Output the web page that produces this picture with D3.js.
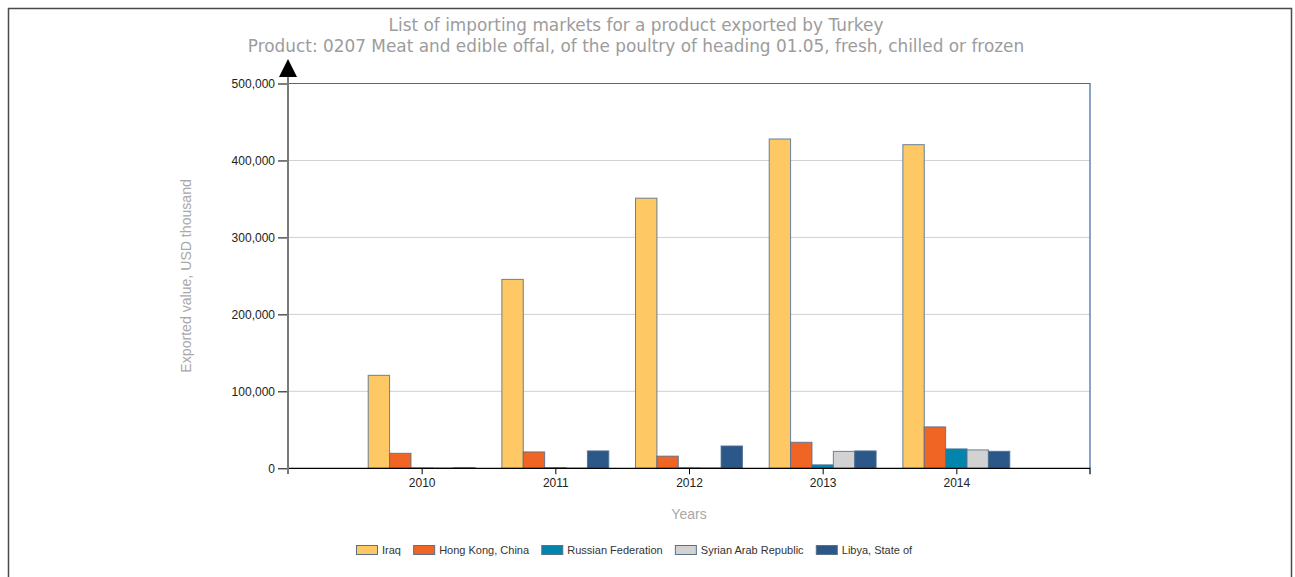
<!DOCTYPE html>
<html>
<head>
<meta charset="utf-8">
<script src="https://cdn.jsdelivr.net/npm/d3@7"></script>
<style>
  html, body { margin: 0; padding: 0; background: #fff; }
  svg { display: block; }
</style>
</head>
<body>
<svg id="chart" width="1295" height="577"></svg>
<script>
// ---- Data ----
const years = [2010, 2011, 2012, 2013, 2014];
const seriesNames = ["Iraq", "Hong Kong, China", "Russian Federation", "Syrian Arab Republic", "Libya, State of"];
const iraq      = [120800, 245500, 351000, 427900, 420500];
const hongKong  = [19500, 21300, 15800, 33800, 53800];
const russia    = [600, 900, 700, 4500, 25200];
const syria     = [400, 300, 500, 22000, 23900];
const libya     = [900, 22600, 29000, 22600, 22100];
const yTicks    = [0, 100000, 200000, 300000, 400000, 500000];
const titleLine1 = "List of importing markets for a product exported by Turkey";
const titleLine2 = "Product: 0207 Meat and edible offal, of the poultry of heading 01.05, fresh, chilled or frozen";
const yTitle = "Exported value, USD thousand";
const xTitle = "Years";

const seriesValues = [iraq, hongKong, russia, syria, libya];
const colors = ["#FEC864", "#F06424", "#0285AC", "#D2D2D2", "#2C5889"];

// ---- Layout ----
const svg = d3.select("#chart");
const L = 288, R = 1090, T = 83.5, B = 468.3;

// outer frame
svg.append("rect").attr("x", 8.5).attr("y", 8.5).attr("width", 1283).attr("height", 620)
  .attr("fill", "none").attr("stroke", "#4a4a4a").attr("stroke-width", 1.5);

const x = d3.scaleLinear().domain([2009, 2015]).range([L, R]);
const step = x(2010) - x(2009);
const groupW = step * 0.8;
const xSub = d3.scaleBand().domain(seriesNames).range([-groupW / 2, groupW / 2]).padding(0);
const y = d3.scaleLinear().domain([0, 500000]).range([B, T]);

// titles
const titleFont = "'DejaVu Sans', Verdana, sans-serif";
svg.append("text").attr("x", 636).attr("y", 31).attr("text-anchor", "middle")
  .attr("font-family", titleFont).attr("font-size", 16.9).attr("fill", "#9c9c9c").text(titleLine1);
svg.append("text").attr("x", 636).attr("y", 51.5).attr("text-anchor", "middle")
  .attr("font-family", titleFont).attr("font-size", 16.9).attr("fill", "#9c9c9c").text(titleLine2);

// gridlines
svg.append("g").selectAll("line").data(yTicks.filter(d => d > 0 && d < 500000)).join("line")
  .attr("x1", L).attr("x2", R).attr("y1", d => y(d)).attr("y2", d => y(d))
  .attr("stroke", "#d0d0d0").attr("stroke-width", 1);

// plot border top/right
svg.append("path").attr("d", `M${L},${T}H${R}V${B}`).attr("fill", "none")
  .attr("stroke", "#3C6A9C").attr("stroke-width", 1.2);

// bars
const groups = svg.append("g").selectAll("g").data(years).join("g")
  .attr("transform", d => `translate(${x(d)},0)`);
groups.selectAll("rect").data((yr, i) => seriesNames.map((s, k) => ({ s, k, v: seriesValues[k][i] })))
  .join("rect")
  .attr("x", d => xSub(d.s))
  .attr("width", xSub.bandwidth())
  .attr("y", d => y(d.v))
  .attr("height", d => y(0) - y(d.v))
  .attr("fill", d => colors[d.k])
  .attr("stroke", "#4f6f94").attr("stroke-opacity", 0.85).attr("stroke-width", 1);

// y axis
const yAxis = d3.axisLeft(y).tickValues(yTicks).tickFormat(d3.format(",")).tickSize(10).tickPadding(3);
const gy = svg.append("g").attr("transform", `translate(${L},0)`).call(yAxis);
gy.select(".domain").remove();
gy.selectAll(".tick line").attr("stroke", "#000");
gy.selectAll(".tick text").attr("font-family", "'Liberation Sans', Arial, sans-serif")
  .attr("font-size", 12).attr("fill", "#222");

// x axis
const xAxis = d3.axisBottom(x).tickValues(years).tickFormat(d3.format("d")).tickSize(6).tickPadding(4);
const gx = svg.append("g").attr("transform", `translate(0,${B})`).call(xAxis);
gx.select(".domain").attr("d", `M${L},0H${R}V6`).attr("stroke", "#000").attr("stroke-width", 1.2);
gx.selectAll(".tick line").attr("stroke", "#000");
gx.selectAll(".tick text").attr("font-family", "'Liberation Sans', Arial, sans-serif")
  .attr("font-size", 12).attr("fill", "#222");

// y axis line + arrow
svg.append("line").attr("x1", L).attr("x2", L).attr("y1", 72).attr("y2", 474)
  .attr("stroke", "#7a7a7a").attr("stroke-width", 2);
svg.append("path").attr("d", `M${L},59L${L + 9},77L${L - 9},77Z`).attr("fill", "#000");

// axis titles
svg.append("text").attr("transform", `translate(191,${(T + B) / 2}) rotate(-90)`)
  .attr("text-anchor", "middle").attr("font-family", "'Liberation Sans', Arial, sans-serif")
  .attr("font-size", 14.1).attr("fill", "#a8a8a8").text(yTitle);
svg.append("text").attr("x", (L + R) / 2).attr("y", 519).attr("text-anchor", "middle")
  .attr("font-family", "'Liberation Sans', Arial, sans-serif")
  .attr("font-size", 14).attr("fill", "#a8a8a8").text(xTitle);

// legend
const legend = svg.append("g").attr("transform", "translate(356,0)");
let lx = 0;
seriesNames.forEach((name, k) => {
  const g = legend.append("g").attr("transform", `translate(${lx},0)`);
  g.append("rect").attr("x", 0.5).attr("y", 545.5).attr("width", 21).attr("height", 9)
    .attr("fill", colors[k]).attr("stroke", "#5a6f88").attr("stroke-width", 1);
  const t = g.append("text").attr("x", 26).attr("y", 554).attr("font-family", "'Liberation Sans', Arial, sans-serif")
    .attr("font-size", 11).attr("fill", "#333").text(name);
  lx += 26 + t.node().getComputedTextLength() + 12.2;
});
</script>
</body>
</html>
